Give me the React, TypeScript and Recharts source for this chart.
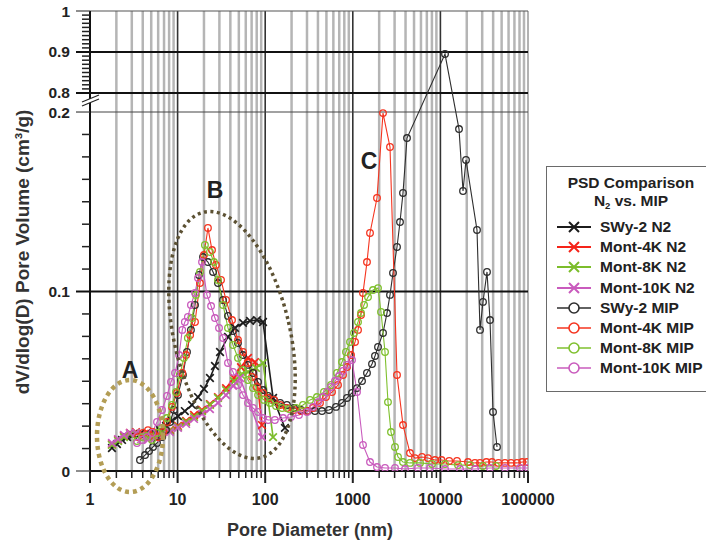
import React from 'react';
import { LineChart, Line, XAxis, YAxis, ReferenceLine } from 'recharts';

type Pt = { d: number; v: number };

// pore diameter (nm) / dV/dlog(D) (cm3/g)
const swy2N2: Pt[] = [
  { d: 1.78, v: 0.0128 }, { d: 2.03, v: 0.015 }, { d: 2.32, v: 0.0173 }, { d: 2.65, v: 0.0189 },
  { d: 3.1, v: 0.0201 }, { d: 3.72, v: 0.0206 }, { d: 4.47, v: 0.0212 }, { d: 5.38, v: 0.0217 },
  { d: 6.3, v: 0.0228 }, { d: 7.37, v: 0.0251 }, { d: 8.63, v: 0.0279 }, { d: 10.1, v: 0.0306 },
  { d: 12.1, v: 0.0334 }, { d: 14.6, v: 0.0368 }, { d: 17.1, v: 0.0412 }, { d: 20.0, v: 0.0457 },
  { d: 23.4, v: 0.0518 }, { d: 26.7, v: 0.0585 }, { d: 30.5, v: 0.0663 }, { d: 37.6, v: 0.0747 },
  { d: 45.2, v: 0.0797 }, { d: 55.8, v: 0.0825 }, { d: 67.1, v: 0.0836 }, { d: 80.6, v: 0.0841 },
  { d: 94.4, v: 0.083 }, { d: 123, v: 0.0407 }, { d: 168, v: 0.024 },
];

const mont4kN2: Pt[] = [
  { d: 1.78, v: 0.015 }, { d: 2.09, v: 0.0173 }, { d: 2.44, v: 0.0195 }, { d: 2.86, v: 0.0212 },
  { d: 3.35, v: 0.0217 }, { d: 3.92, v: 0.0206 }, { d: 4.59, v: 0.0189 }, { d: 5.52, v: 0.0195 },
  { d: 6.64, v: 0.0212 }, { d: 8.19, v: 0.0228 }, { d: 10.1, v: 0.0251 }, { d: 12.5, v: 0.0279 },
  { d: 15.4, v: 0.0312 }, { d: 19.0, v: 0.034 }, { d: 23.4, v: 0.0373 }, { d: 28.9, v: 0.0412 },
  { d: 35.7, v: 0.0462 }, { d: 44.0, v: 0.0518 }, { d: 52.9, v: 0.0579 }, { d: 63.6, v: 0.063 },
  { d: 76.5, v: 0.0607 }, { d: 91.9, v: 0.0256 },
];

const mont8kN2: Pt[] = [
  { d: 1.78, v: 0.0145 }, { d: 2.09, v: 0.0167 }, { d: 2.44, v: 0.0189 }, { d: 2.86, v: 0.0206 },
  { d: 3.35, v: 0.0212 }, { d: 3.92, v: 0.0201 }, { d: 4.59, v: 0.0184 }, { d: 5.52, v: 0.0189 },
  { d: 6.64, v: 0.0206 }, { d: 8.19, v: 0.0223 }, { d: 10.1, v: 0.0245 }, { d: 12.5, v: 0.0273 },
  { d: 15.4, v: 0.0301 }, { d: 19.0, v: 0.0334 }, { d: 23.4, v: 0.0368 }, { d: 28.9, v: 0.0407 },
  { d: 35.7, v: 0.0451 }, { d: 44.0, v: 0.0501 }, { d: 52.9, v: 0.0535 }, { d: 63.6, v: 0.0552 },
  { d: 78.5, v: 0.0574 }, { d: 94.4, v: 0.0602 }, { d: 123, v: 0.0189 },
];

const mont10kN2: Pt[] = [
  { d: 1.78, v: 0.0156 }, { d: 2.09, v: 0.0178 }, { d: 2.44, v: 0.0201 }, { d: 2.86, v: 0.0212 },
  { d: 3.35, v: 0.0212 }, { d: 3.92, v: 0.0201 }, { d: 4.59, v: 0.0173 }, { d: 5.52, v: 0.0184 },
  { d: 6.64, v: 0.0201 }, { d: 8.19, v: 0.0217 }, { d: 10.1, v: 0.024 }, { d: 12.5, v: 0.0262 },
  { d: 15.4, v: 0.029 }, { d: 19.0, v: 0.0318 }, { d: 23.4, v: 0.0345 }, { d: 28.9, v: 0.0379 },
  { d: 35.7, v: 0.0423 }, { d: 42.9, v: 0.0474 }, { d: 51.6, v: 0.0518 }, { d: 91.9, v: 0.0189 },
];

const swy2Mip: Pt[] = [
  { d: 3.72, v: 0.0061 }, { d: 4.25, v: 0.0089 }, { d: 4.72, v: 0.0111 }, { d: 5.24, v: 0.0134 },
  { d: 5.82, v: 0.0156 }, { d: 6.64, v: 0.0189 }, { d: 7.37, v: 0.0228 }, { d: 8.19, v: 0.0273 },
  { d: 9.1, v: 0.034 }, { d: 10.1, v: 0.0423 }, { d: 11.5, v: 0.0535 }, { d: 12.8, v: 0.0663 },
  { d: 14.2, v: 0.0786 }, { d: 15.8, v: 0.0925 }, { d: 17.5, v: 0.1092 }, { d: 19.5, v: 0.1192 },
  { d: 22.2, v: 0.1164 }, { d: 25.4, v: 0.1109 }, { d: 28.9, v: 0.1047 }, { d: 33.0, v: 0.0953 },
  { d: 37.6, v: 0.0864 }, { d: 42.9, v: 0.078 }, { d: 48.9, v: 0.0713 }, { d: 55.8, v: 0.0646 },
  { d: 63.6, v: 0.0591 }, { d: 72.6, v: 0.0546 }, { d: 82.8, v: 0.0496 }, { d: 94.4, v: 0.0451 },
  { d: 108, v: 0.0418 }, { d: 126, v: 0.0396 }, { d: 148, v: 0.0379 }, { d: 177, v: 0.0368 },
  { d: 213, v: 0.0351 }, { d: 256, v: 0.034 }, { d: 308, v: 0.0334 }, { d: 370, v: 0.0334 },
  { d: 445, v: 0.0334 }, { d: 535, v: 0.034 }, { d: 643, v: 0.0357 }, { d: 753, v: 0.0379 },
  { d: 859, v: 0.0407 }, { d: 979, v: 0.0435 }, { d: 1117, v: 0.0462 }, { d: 1274, v: 0.0501 },
  { d: 1452, v: 0.0546 }, { d: 1657, v: 0.0596 }, { d: 1792, v: 0.0641 }, { d: 1940, v: 0.0691 },
  { d: 2212, v: 0.0769 }, { d: 2457, v: 0.088 }, { d: 2659, v: 0.0981 }, { d: 2877, v: 0.1103 },
  { d: 3196, v: 0.1248 }, { d: 3458, v: 0.1387 }, { d: 3742, v: 0.1549 }, { d: 4157, v: 0.1855 },
  { d: 11290, v: 0.895 }, { d: 16310, v: 0.1905 }, { d: 18120, v: 0.156 }, { d: 19600, v: 0.1733 },
  { d: 26170, v: 0.1343 }, { d: 28320, v: 0.0786 }, { d: 30640, v: 0.0942 }, { d: 34040, v: 0.1109 },
  { d: 36840, v: 0.0841 }, { d: 39860, v: 0.0329 }, { d: 44280, v: 0.0134 },
];

const mont4kMip: Pt[] = [
  { d: 3.53, v: 0.0189 }, { d: 4.03, v: 0.0212 }, { d: 4.59, v: 0.0228 }, { d: 5.24, v: 0.0217 },
  { d: 5.97, v: 0.0189 }, { d: 6.83, v: 0.0217 }, { d: 7.57, v: 0.0273 }, { d: 8.63, v: 0.0357 },
  { d: 9.83, v: 0.0435 }, { d: 11.3, v: 0.0546 }, { d: 12.5, v: 0.0646 }, { d: 13.9, v: 0.0758 },
  { d: 15.8, v: 0.083 }, { d: 18.0, v: 0.1047 }, { d: 20.0, v: 0.1203 }, { d: 22.2, v: 0.1354 },
  { d: 24.7, v: 0.1231 }, { d: 27.4, v: 0.1148 }, { d: 31.3, v: 0.1064 }, { d: 35.7, v: 0.0953 },
  { d: 41.8, v: 0.0841 }, { d: 48.9, v: 0.073 }, { d: 55.8, v: 0.0663 }, { d: 63.6, v: 0.0602 },
  { d: 70.7, v: 0.0524 }, { d: 80.6, v: 0.0468 }, { d: 94.4, v: 0.0435 }, { d: 108, v: 0.0407 },
  { d: 126, v: 0.0396 }, { d: 148, v: 0.0368 }, { d: 177, v: 0.0351 }, { d: 213, v: 0.034 },
  { d: 256, v: 0.0334 }, { d: 300, v: 0.0334 }, { d: 351, v: 0.0351 }, { d: 422, v: 0.0379 },
  { d: 494, v: 0.0412 }, { d: 579, v: 0.044 }, { d: 678, v: 0.0479 }, { d: 773, v: 0.0535 },
  { d: 859, v: 0.0579 }, { d: 954, v: 0.0646 }, { d: 1060, v: 0.0719 }, { d: 1147, v: 0.0786 },
  { d: 1241, v: 0.0869 }, { d: 1307, v: 0.0992 }, { d: 1452, v: 0.1164 }, { d: 1572, v: 0.1326 },
  { d: 1889, v: 0.1521 }, { d: 2212, v: 0.1994 }, { d: 2659, v: 0.1805 }, { d: 3196, v: 0.0535 },
  { d: 3742, v: 0.0256 }, { d: 4498, v: 0.01 }, { d: 5129, v: 0.0072 }, { d: 6166, v: 0.0078 },
  { d: 7220, v: 0.0072 }, { d: 8677, v: 0.0061 }, { d: 10300, v: 0.0061 }, { d: 12600, v: 0.0056 },
  { d: 15470, v: 0.0056 }, { d: 20650, v: 0.005 }, { d: 24800, v: 0.0045 }, { d: 28320, v: 0.0045 },
  { d: 33500, v: 0.005 }, { d: 38820, v: 0.005 }, { d: 46000, v: 0.0045 }, { d: 54600, v: 0.0045 },
  { d: 64000, v: 0.0045 }, { d: 74800, v: 0.0045 }, { d: 86000, v: 0.005 }, { d: 97400, v: 0.005 },
];

const mont8kMip: Pt[] = [
  { d: 3.44, v: 0.0167 }, { d: 3.92, v: 0.0189 }, { d: 4.47, v: 0.0195 }, { d: 5.1, v: 0.0173 },
  { d: 5.82, v: 0.0212 }, { d: 6.64, v: 0.024 }, { d: 7.57, v: 0.0295 }, { d: 8.63, v: 0.0368 },
  { d: 9.59, v: 0.044 }, { d: 10.6, v: 0.0535 }, { d: 11.8, v: 0.063 }, { d: 13.1, v: 0.0741 },
  { d: 14.6, v: 0.0852 }, { d: 16.2, v: 0.0981 }, { d: 18.0, v: 0.1109 }, { d: 20.5, v: 0.1259 },
  { d: 23.4, v: 0.122 }, { d: 26.0, v: 0.1164 }, { d: 28.9, v: 0.1064 }, { d: 33.0, v: 0.0925 },
  { d: 37.6, v: 0.0797 }, { d: 42.9, v: 0.0702 }, { d: 48.9, v: 0.063 }, { d: 55.8, v: 0.0563 },
  { d: 63.6, v: 0.0507 }, { d: 72.6, v: 0.0462 }, { d: 82.8, v: 0.0423 }, { d: 96.9, v: 0.0396 },
  { d: 113, v: 0.0379 }, { d: 133, v: 0.0362 }, { d: 156, v: 0.0351 }, { d: 187, v: 0.0345 },
  { d: 225, v: 0.0351 }, { d: 270, v: 0.0368 }, { d: 325, v: 0.0396 }, { d: 390, v: 0.0412 },
  { d: 469, v: 0.044 }, { d: 564, v: 0.0479 }, { d: 660, v: 0.0546 }, { d: 753, v: 0.0607 },
  { d: 836, v: 0.0663 }, { d: 929, v: 0.0719 }, { d: 1032, v: 0.0769 }, { d: 1147, v: 0.083 },
  { d: 1241, v: 0.088 }, { d: 1343, v: 0.0925 }, { d: 1491, v: 0.0969 }, { d: 1701, v: 0.1008 },
  { d: 1940, v: 0.1019 }, { d: 2099, v: 0.0886 }, { d: 2332, v: 0.0663 }, { d: 2522, v: 0.0384 },
  { d: 2729, v: 0.0217 }, { d: 3032, v: 0.0134 }, { d: 3281, v: 0.0078 }, { d: 3742, v: 0.005 },
  { d: 4498, v: 0.0045 }, { d: 5850, v: 0.0045 }, { d: 8020, v: 0.0039 }, { d: 11290, v: 0.0039 },
  { d: 15880, v: 0.0033 }, { d: 21780, v: 0.0033 }, { d: 30640, v: 0.0028 }, { d: 43120, v: 0.0028 },
];

const mont10kMip: Pt[] = [
  { d: 3.44, v: 0.0156 }, { d: 3.92, v: 0.0173 }, { d: 4.47, v: 0.0189 }, { d: 5.1, v: 0.0212 },
  { d: 5.82, v: 0.0273 }, { d: 6.64, v: 0.034 }, { d: 7.57, v: 0.0418 }, { d: 8.41, v: 0.0496 },
  { d: 9.34, v: 0.0546 }, { d: 10.4, v: 0.0646 }, { d: 11.3, v: 0.0786 }, { d: 12.1, v: 0.083 },
  { d: 13.1, v: 0.0858 }, { d: 14.2, v: 0.0925 }, { d: 15.8, v: 0.0992 }, { d: 17.1, v: 0.1075 },
  { d: 19.0, v: 0.1164 }, { d: 21.6, v: 0.0981 }, { d: 24.1, v: 0.0919 }, { d: 26.7, v: 0.0852 },
  { d: 29.7, v: 0.0797 }, { d: 33.0, v: 0.0741 }, { d: 37.6, v: 0.0602 }, { d: 42.9, v: 0.0552 },
  { d: 48.9, v: 0.0479 }, { d: 55.8, v: 0.0423 }, { d: 63.6, v: 0.0379 }, { d: 72.6, v: 0.0351 },
  { d: 82.8, v: 0.0329 }, { d: 94.4, v: 0.0295 }, { d: 108, v: 0.0284 }, { d: 129, v: 0.0284 },
  { d: 160, v: 0.0295 }, { d: 197, v: 0.0301 }, { d: 243, v: 0.0312 }, { d: 300, v: 0.0329 },
  { d: 351, v: 0.0357 }, { d: 401, v: 0.0384 }, { d: 457, v: 0.0412 }, { d: 508, v: 0.044 },
  { d: 564, v: 0.0468 }, { d: 626, v: 0.0501 }, { d: 696, v: 0.0529 }, { d: 773, v: 0.0557 },
  { d: 859, v: 0.0591 }, { d: 979, v: 0.0618 }, { d: 1117, v: 0.044 }, { d: 1307, v: 0.0145 },
  { d: 1572, v: 0.005 }, { d: 1889, v: 0.0022 }, { d: 2332, v: 0.0017 }, { d: 3032, v: 0.0017 },
  { d: 3944, v: 0.0011 }, { d: 5550, v: 0.0017 }, { d: 7613, v: 0.0017 }, { d: 11290, v: 0.0011 },
  { d: 16740, v: 0.0011 }, { d: 24830, v: 0.0011 }, { d: 36840, v: 0.0017 }, { d: 54600, v: 0.0017 },
  { d: 81060, v: 0.0017 }, { d: 100000, v: 0.0017 },
];

const seriesNames = [
  'SWy-2 N2', 'Mont-4K N2', 'Mont-8K N2', 'Mont-10K N2',
  'SWy-2 MIP', 'Mont-4K MIP', 'Mont-8K MIP', 'Mont-10K MIP',
];
const seriesData = [swy2N2, mont4kN2, mont8kN2, mont10kN2, swy2Mip, mont4kMip, mont8kMip, mont10kMip];
const seriesColors = ['#1c1c1c', '#f5241a', '#7cbd2b', '#c95bbd', '#2e2e2e', '#f5341f', '#7fc02e', '#c95bbd'];

const xDecades = [1, 10, 100, 1000, 10000, 100000];
const yMajor = [0, 0.1, 0.2, 0.8, 0.9, 1];

// broken y axis: 0..0.2 on the main scale, 0.8..1 squeezed on top
const LOW_TOP = 0.2;
const HIGH_BOTTOM = 0.8;
const GAP = 0.0106;
const HIGH_K = 0.2284;
const toAxis = (v: number) => (v <= LOW_TOP ? v : LOW_TOP + GAP + (v - HIGH_BOTTOM) * HIGH_K);
const fromAxis = (t: number) => (t <= LOW_TOP + 1e-9 ? t : HIGH_BOTTOM + (t - LOW_TOP - GAP) / HIGH_K);

const xTicks: number[] = [];
xDecades.slice(0, -1).forEach((dec) => {
  for (let m = 1; m < 10; m++) xTicks.push(dec * m);
});
xTicks.push(100000);
const xMinor = xTicks.filter((t) => !xDecades.includes(t));

const yTicks: number[] = [];
for (let i = 0; i <= 16; i++) yTicks.push(i * 0.0125);
for (let i = 0; i <= 20; i++) yTicks.push(toAxis(0.8 + i * 0.01));

const FONT = '"Liberation Sans", Arial, sans-serif';
const TEXT = '#222';

const isMajorY = (val: number) => yMajor.some((m) => Math.abs(m - val) < 1e-6);
const heavyY = [0.1, 0.8, 0.9];

const YTick = (props: any) => {
  const { x, y, payload } = props;
  const val = fromAxis(payload.value);
  if (isMajorY(val)) {
    const heavy = heavyY.some((h) => Math.abs(h - val) < 1e-6);
    return (
      <g>
        <line x1={x - 14} x2={x} y1={y} y2={y} stroke={heavy ? '#111' : '#444'} strokeWidth={heavy ? 2 : 1.2} />
        <text x={x - 20} y={y} textAnchor="end" dominantBaseline="central"
          style={{ fontFamily: FONT, fontWeight: 700, fontSize: 15.5, fill: TEXT }}>
          {Number(val.toFixed(1)).toString()}
        </text>
      </g>
    );
  }
  return <line x1={x - 8} x2={x} y1={y} y2={y} stroke="#222" strokeWidth={1.5} />;
};

const XTick = (props: any) => {
  const { x, y, payload } = props;
  const val = payload.value;
  const dec = xDecades.includes(val);
  return (
    <g>
      <line x1={x} x2={x} y1={y} y2={y + (dec ? 12 : 7)} stroke="#222" strokeWidth={dec ? 2 : 1.5} />
      {dec && (
        <text x={x} y={y + 28} textAnchor="middle" dominantBaseline="central"
          style={{ fontFamily: FONT, fontWeight: 700, fontSize: 16, fill: TEXT }}>
          {val}
        </text>
      )}
    </g>
  );
};

const crossDot = (color: string) => (p: any) => {
  const { cx, cy, index } = p;
  if (cx == null || cy == null) return <g key={index} />;
  const s = 3.8;
  return (
    <path key={index} d={`M${cx - s},${cy - s}L${cx + s},${cy + s}M${cx - s},${cy + s}L${cx + s},${cy - s}`}
      stroke={color} strokeWidth={1.7} fill="none" />
  );
};

const circleDot = (color: string) => (p: any) => {
  const { cx, cy, index } = p;
  if (cx == null || cy == null) return <g key={index} />;
  return <circle key={index} cx={cx} cy={cy} r={3.3} stroke={color} strokeWidth={1.3} fill="none" />;
};

const LegendBox = () => (
  <div style={{
    position: 'absolute', left: 546, top: 166, width: 175, height: 226, border: '1px solid #6a6a6a',
    background: '#fff', fontFamily: FONT, fontWeight: 700, color: TEXT, boxSizing: 'border-box',
  }}>
    <div style={{ position: 'absolute', left: 0, width: 168, top: 7, textAlign: 'center', fontSize: 15.5, lineHeight: '17.5px' }}>
      PSD Comparison<br />N<sub style={{ fontSize: 9.5, verticalAlign: -3, lineHeight: 0 }}>2</sub> vs. MIP
    </div>
    {seriesNames.map((name, i) => {
      const color = seriesColors[i];
      const top = 60 + i * 20.2;
      const isN2 = i < 4;
      return (
        <div key={name} style={{ position: 'absolute', left: 0, top: top - 10, height: 20, width: 175 }}>
          <svg width={48} height={20} style={{ position: 'absolute', left: 8, top: 0 }}>
            <line x1={2} x2={36} y1={10} y2={10} stroke={color} strokeWidth={isN2 ? 2 : 1.5} />
            {isN2 ? (
              <path d="M14,5L24,15M14,15L24,5" stroke={color} strokeWidth={2} fill="none" />
            ) : (
              <circle cx={19} cy={10} r={5} stroke={color} strokeWidth={1.6} fill="#fff" />
            )}
          </svg>
          <span style={{ position: 'absolute', left: 53, top: 0, lineHeight: '20px', fontSize: 15.5, whiteSpace: 'nowrap' }}>
            {name}
          </span>
        </div>
      );
    })}
  </div>
);

const Annotations = () => (
  <svg width={706} height={543} style={{ position: 'absolute', left: 0, top: 0, pointerEvents: 'none' }}>
    {/* axis break marks */}
    <path d="M82,106 L99,99 L99,95 L82,102 Z" fill="#fff" />
    <line x1={82} y1={106} x2={99} y2={99} stroke="#222" strokeWidth={1.2} />
    <line x1={82} y1={102} x2={99} y2={95} stroke="#222" strokeWidth={1.2} />
    <ellipse cx={130} cy={436} rx={33} ry={56} fill="none" stroke="#b39d55" strokeWidth={4.5} strokeDasharray="4 4" />
    <ellipse cx={232} cy={335} rx={58} ry={126} transform="rotate(-13 232 335)" fill="none"
      stroke="#5c5133" strokeWidth={3.5} strokeDasharray="3 3.5" />
    <g style={{ fontFamily: FONT, fontWeight: 700, fontSize: 23, fill: TEXT }}>
      <text x={130} y={370} textAnchor="middle" dominantBaseline="central">A</text>
      <text x={215} y={190} textAnchor="middle" dominantBaseline="central">B</text>
      <text x={369} y={161} textAnchor="middle" dominantBaseline="central">C</text>
    </g>
    <text x={310} y={530} textAnchor="middle" dominantBaseline="central"
      style={{ fontFamily: FONT, fontWeight: 700, fontSize: 18, fill: '#333' }}>
      Pore Diameter (nm)
    </text>
    <text x={22} y={252} textAnchor="middle" dominantBaseline="central" transform="rotate(-90 22 252)"
      style={{ fontFamily: FONT, fontWeight: 700, fontSize: 19, fill: '#333' }}>
      dV/dlog(D) Pore Volume (cm³/g)
    </text>
  </svg>
);

export default function App() {
  return (
    <div style={{ position: 'absolute', left: 0, top: 0, width: 706, height: 543, overflow: 'hidden', background: '#fff' }}>
      <LineChart width={706} height={543} margin={{ top: 11, right: 178, left: 0, bottom: 12 }}>
        <XAxis
          type="number" dataKey="d" scale="log" domain={[1, 100000]} ticks={xTicks} interval={0}
          allowDataOverflow tick={(p: any) => <XTick {...p} />} tickLine={false} tickSize={0} tickMargin={0}
          axisLine={{ stroke: '#111', strokeWidth: 2 }} height={60}
        />
        <YAxis
          type="number" domain={[0, toAxis(1)]} ticks={yTicks} interval={0} allowDataOverflow
          tick={(p: any) => <YTick {...p} />} tickLine={false} tickSize={0} tickMargin={0}
          axisLine={{ stroke: '#111', strokeWidth: 2 }} width={90}
        />
        {xMinor.map((t) => (
          <ReferenceLine key={`vx${t}`} x={t} stroke="#b5b5b5" strokeWidth={2.5} />
        ))}
        {[10, 100, 1000, 10000].map((t) => (
          <ReferenceLine key={`vd${t}`} x={t} stroke="#333" strokeWidth={1.6} />
        ))}
        <ReferenceLine x={100000} stroke="#999" strokeWidth={1.5} />
        {[0.1, 0.8, 0.9].map((t) => (
          <ReferenceLine key={`h${t}`} y={toAxis(t)} stroke="#111" strokeWidth={2} />
        ))}
        <ReferenceLine y={toAxis(0.2)} stroke="#444" strokeWidth={1.2} />
        <ReferenceLine y={toAxis(1)} stroke="#555" strokeWidth={1.2} />
        {seriesData.map((data, i) => (
          <Line
            key={seriesNames[i]}
            data={data}
            dataKey={(p: Pt) => toAxis(p.v)}
            name={seriesNames[i]}
            type="linear"
            stroke={seriesColors[i]}
            strokeWidth={i < 4 ? 1.6 : 1.1}
            dot={i < 4 ? crossDot(seriesColors[i]) : circleDot(seriesColors[i])}
            activeDot={false}
            isAnimationActive={false}
          />
        ))}
      </LineChart>
      <Annotations />
      <LegendBox />
    </div>
  );
}
